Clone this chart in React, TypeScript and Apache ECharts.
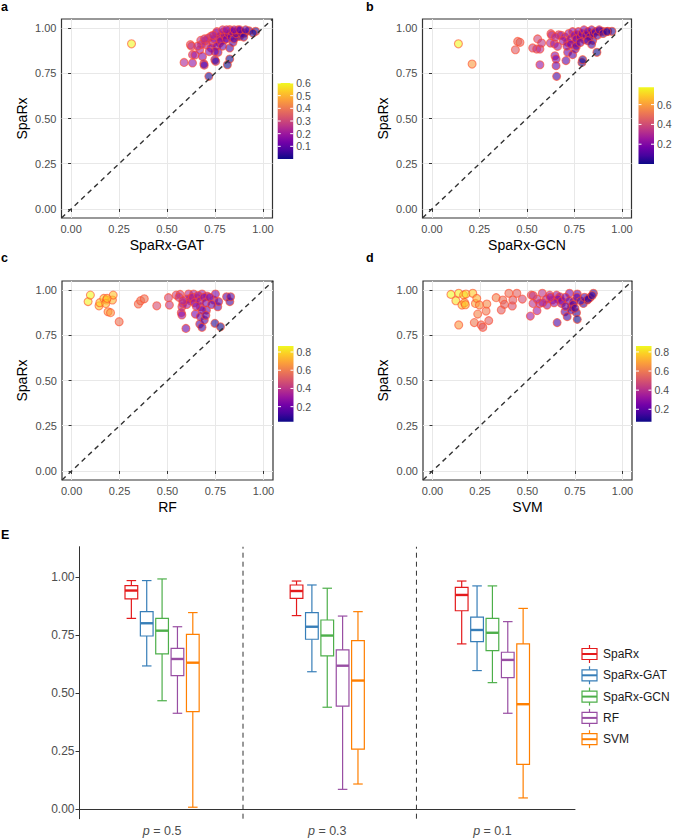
import React, { useEffect, useRef } from 'react';
import * as echarts from 'echarts';

// ---------- data: scatter panels ([other method, SpaRx]) ----------
const gatPoints = [
  [0.315,0.913],[0.589,0.81],[0.633,0.807],[0.622,0.908],[0.628,0.9],[0.633,0.853],[0.646,0.851],[0.671,0.88],
  [0.676,0.932],[0.685,0.843],[0.692,0.803],[0.694,0.795],[0.718,0.733],[0.705,0.908],[0.728,0.954],[0.74,0.917],
  [0.749,0.825],[0.754,0.816],[0.766,0.866],[0.775,0.917],[0.783,0.958],[0.795,0.978],[0.8,0.935],[0.809,0.963],
  [0.827,0.89],[0.827,0.829],[0.815,0.797],[0.844,0.921],[0.853,0.976],[0.865,0.954],[0.879,0.982],[0.905,0.972],
  [0.927,0.985],[0.962,0.982],[0.757,0.972],[0.827,0.991],[0.879,0.954],[0.948,0.972],[0.7,0.93],[0.715,0.945],
  [0.73,0.89],[0.745,0.94],[0.76,0.9],[0.77,0.95],[0.78,0.93],[0.79,0.9],[0.8,0.96],[0.81,0.94],[0.82,0.97],
  [0.835,0.95],[0.84,0.98],[0.85,0.94],[0.86,0.97],[0.87,0.99],[0.89,0.97],[0.9,0.95],[0.76,0.98],[0.79,0.99],
  [0.81,0.99],[0.85,0.99],[0.88,0.99],[0.91,0.99],[0.74,0.96],[0.75,0.87],[0.72,0.87],[0.68,0.91],[0.66,0.9],[0.695,0.94]
];
const gcnPoints = [
  [0.139,0.913],[0.211,0.801],[0.439,0.88],[0.451,0.926],[0.463,0.921],[0.53,0.89],[0.556,0.94],[0.551,0.884],
  [0.568,0.884],[0.577,0.917],[0.568,0.797],[0.626,0.969],[0.623,0.917],[0.644,0.913],[0.647,0.847],[0.653,0.829],
  [0.653,0.792],[0.656,0.733],[0.661,0.899],[0.667,0.963],[0.705,0.82],[0.714,0.866],[0.714,0.921],[0.74,0.853],
  [0.754,0.884],[0.758,0.917],[0.767,0.963],[0.789,0.81],[0.793,0.825],[0.802,0.936],[0.828,0.967],[0.846,0.932],
  [0.868,0.866],[0.881,0.982],[0.898,0.982],[0.925,0.982],[0.947,0.982],[0.68,0.96],[0.7,0.95],[0.72,0.97],
  [0.73,0.94],[0.74,0.98],[0.75,0.96],[0.76,0.94],[0.77,0.98],[0.78,0.95],[0.79,0.97],[0.8,0.99],[0.81,0.96],
  [0.82,0.98],[0.83,0.95],[0.84,0.99],[0.85,0.97],[0.86,0.98],[0.87,0.96],[0.88,0.99],[0.9,0.97],[0.92,0.98],
  [0.69,0.93],[0.71,0.9],[0.73,0.91],[0.76,0.9],[0.78,0.92],[0.82,0.93],[0.84,0.91],[0.63,0.96],[0.65,0.95]
];
const rfPoints = [
  [0.086,0.936],[0.098,0.972],[0.143,0.913],[0.147,0.93],[0.168,0.954],[0.182,0.945],[0.178,0.926],[0.19,0.88],
  [0.203,0.875],[0.213,0.945],[0.217,0.972],[0.185,0.954],[0.248,0.825],[0.348,0.923],[0.36,0.941],[0.379,0.952],
  [0.444,0.913],[0.505,0.958],[0.51,0.917],[0.545,0.972],[0.566,0.976],[0.575,0.908],[0.572,0.875],[0.575,0.862],
  [0.596,0.788],[0.58,0.926],[0.61,0.978],[0.619,0.954],[0.636,0.978],[0.645,0.867],[0.654,0.954],[0.671,0.908],
  [0.671,0.853],[0.668,0.812],[0.68,0.794],[0.68,0.978],[0.692,0.834],[0.703,0.889],[0.706,0.967],[0.741,0.945],
  [0.747,0.816],[0.75,0.978],[0.762,0.908],[0.767,0.936],[0.776,0.797],[0.808,0.963],[0.825,0.936],[0.829,0.963],
  [0.6,0.95],[0.62,0.94],[0.63,0.96],[0.64,0.93],[0.66,0.97],[0.67,0.94],[0.69,0.96],[0.7,0.93],[0.72,0.96],
  [0.73,0.92],[0.68,0.89],[0.7,0.86],[0.65,0.91],[0.6,0.92],[0.56,0.96],[0.58,0.94]
];
const svmPoints = [
  [0.097,0.976],[0.123,0.941],[0.138,0.982],[0.155,0.917],[0.164,0.972],[0.169,0.93],[0.173,0.919],[0.176,0.978],
  [0.138,0.807],[0.212,0.982],[0.226,0.926],[0.233,0.954],[0.238,0.867],[0.22,0.82],[0.247,0.917],[0.256,0.807],
  [0.265,0.794],[0.282,0.884],[0.286,0.923],[0.296,0.831],[0.335,0.958],[0.362,0.89],[0.37,0.945],[0.379,0.921],
  [0.402,0.982],[0.42,0.912],[0.423,0.945],[0.444,0.982],[0.473,0.95],[0.515,0.856],[0.52,0.972],[0.529,0.926],
  [0.55,0.886],[0.564,0.926],[0.578,0.982],[0.603,0.917],[0.617,0.972],[0.631,0.945],[0.653,0.972],[0.656,0.82],
  [0.67,0.963],[0.679,0.926],[0.697,0.88],[0.709,0.853],[0.721,0.982],[0.732,0.908],[0.744,0.936],[0.758,0.875],
  [0.762,0.838],[0.762,0.978],[0.794,0.926],[0.815,0.945],[0.829,0.959],[0.847,0.982],[0.66,0.95],[0.68,0.94],
  [0.7,0.96],[0.72,0.94],[0.74,0.92],[0.76,0.96],[0.78,0.94],[0.8,0.96],[0.82,0.95],[0.84,0.97],[0.73,0.89],
  [0.75,0.9],[0.7,0.91],[0.64,0.93],[0.6,0.95],[0.58,0.93],[0.55,0.95],[0.53,0.97],[0.62,0.96]
];
const scatterAxisTicks = [0, 0.25, 0.5, 0.75, 1];
const gatColorRange = [0.0, 0.6];
const gcnColorRange = [0.0, 0.775];
const rfColorRange = [0.035, 0.866];
const svmColorRange = [0.07, 0.862];
const gatColorTicks = [0.1, 0.2, 0.3, 0.4, 0.5, 0.6];
const gcnColorTicks = [0.2, 0.4, 0.6];
const rfColorTicks = [0.2, 0.4, 0.6, 0.8];
const svmColorTicks = [0.2, 0.4, 0.6, 0.8];

// ---------- data: panel E boxplots [low, q1, median, q3, high] per p ----------
const pLabels = ['0.5', '0.3', '0.1'];
const methods = ['SpaRx', 'SpaRx-GAT', 'SpaRx-GCN', 'RF', 'SVM'];
const sparxBoxes = [[0.823,0.907,0.943,0.964,0.986],[0.835,0.909,0.941,0.967,0.984],[0.713,0.856,0.924,0.957,0.984]];
const gatBoxes = [[0.618,0.747,0.802,0.852,0.986],[0.593,0.733,0.787,0.848,0.967],[0.598,0.723,0.773,0.828,0.963]];
const gcnBoxes = [[0.468,0.67,0.77,0.823,0.993],[0.44,0.661,0.749,0.816,0.953],[0.546,0.684,0.761,0.823,0.963]];
const rfBoxes = [[0.414,0.576,0.648,0.694,0.787],[0.086,0.445,0.619,0.687,0.833],[0.414,0.568,0.644,0.677,0.809]];
const svmBoxes = [[0.009,0.421,0.632,0.754,0.848],[0.109,0.259,0.555,0.727,0.852],[0.049,0.194,0.453,0.713,0.866]];
const eAxisTicks = [0, 0.25, 0.5, 0.75, 1];
const separatorPositions = [0.99, 2.04];

// ---------- styles ----------
const FONT = 'Liberation Sans, Arial, Helvetica, sans-serif';
const plasma = ['#0d0887','#47039f','#7301a8','#9c179e','#bd3786','#d8576b','#ed7953','#fb9f3a','#fdca26','#f0f921'];
const methodColors = ['#e41a1c', '#377eb8', '#4daf4a', '#984ea3', '#ff7f00'];
const methodBoxes = [sparxBoxes, gatBoxes, gcnBoxes, rfBoxes, svmBoxes];

const panels = [
  { label: 'a', xName: 'SpaRx-GAT', points: gatPoints, range: gatColorRange, ticks: gatColorTicks,
    grid: { left: 61.5, top: 19, width: 211, height: 199 }, bar: { x: 277.7, y: 83, w: 15.5, h: 76 }, lab: [1, 7] },
  { label: 'b', xName: 'SpaRx-GCN', points: gcnPoints, range: gcnColorRange, ticks: gcnColorTicks,
    grid: { left: 422.5, top: 19, width: 209, height: 199 }, bar: { x: 638.5, y: 87.3, w: 15.5, h: 76.7 }, lab: [366, 7] },
  { label: 'c', xName: 'RF', points: rfPoints, range: rfColorRange, ticks: rfColorTicks,
    grid: { left: 62, top: 281, width: 211, height: 199 }, bar: { x: 278, y: 346, w: 15.5, h: 75.7 }, lab: [1, 258] },
  { label: 'd', xName: 'SVM', points: svmPoints, range: svmColorRange, ticks: svmColorTicks,
    grid: { left: 423, top: 281, width: 209, height: 199 }, bar: { x: 636, y: 346, w: 15.5, h: 75.7 }, lab: [366, 258] },
];

const eGrid = { left: 79.5, top: 546.7, width: 495.5, height: 272 };

function buildOption() {
  const grid: any[] = [];
  const xAxis: any[] = [];
  const yAxis: any[] = [];
  const series: any[] = [];
  const visualMap: any[] = [];
  const graphic: any[] = [];

  panels.forEach((p, i) => {
    grid.push({ ...p.grid, show: true, borderColor: '#333', borderWidth: 1.2, backgroundColor: 'transparent' });
    xAxis.push({
      gridIndex: i, type: 'value', min: -0.05, max: 1.05,
      axisLine: { show: false },
      axisTick: { show: true, customValues: scatterAxisTicks, length: 3, lineStyle: { color: '#333' } },
      axisLabel: { customValues: scatterAxisTicks, formatter: (v: number) => v.toFixed(2), color: '#4d4d4d', fontSize: 11, margin: 5, fontFamily: FONT },
      splitLine: { show: true, lineStyle: { color: '#e8e8e8', width: 1 } },
      name: p.xName, nameLocation: 'middle', nameGap: 20,
      nameTextStyle: { fontSize: 14, color: '#000', fontFamily: FONT },
    });
    yAxis.push({
      gridIndex: i, type: 'value', min: -0.05, max: 1.05,
      axisLine: { show: false },
      axisTick: { show: true, customValues: scatterAxisTicks, length: 3, lineStyle: { color: '#333' } },
      axisLabel: { customValues: scatterAxisTicks, formatter: (v: number) => v.toFixed(2), color: '#4d4d4d', fontSize: 11, margin: 5, fontFamily: FONT },
      splitLine: { show: true, lineStyle: { color: '#e8e8e8', width: 1 } },
      name: 'SpaRx', nameLocation: 'middle', nameGap: 33,
      nameTextStyle: { fontSize: 14, color: '#000', fontFamily: FONT },
    });
    const sIdx = series.length;
    series.push({
      type: 'scatter', xAxisIndex: i, yAxisIndex: i,
      data: p.points.map((q) => [q[0], q[1], q[1] - q[0]]),
      symbolSize: 8,
      itemStyle: { opacity: 0.6, borderColor: '#ff4a2a', borderWidth: 1.1 },
      z: 2,
    });
    series.push({
      type: 'line', xAxisIndex: i, yAxisIndex: i,
      data: [[-0.05, -0.05], [1.05, 1.05]],
      symbol: 'none', silent: true,
      lineStyle: { color: '#333', width: 1.4, type: [5, 4] },
      z: 3,
    });
    visualMap.push({
      type: 'continuous', show: false, seriesIndex: sIdx, dimension: 2,
      min: p.range[0], max: p.range[1], inRange: { color: plasma },
    });
    // colour bar
    const b = p.bar;
    graphic.push({
      type: 'rect', shape: { x: b.x, y: b.y, width: b.w, height: b.h },
      style: {
        fill: {
          type: 'linear', x: 0, y: 1, x2: 0, y2: 0,
          colorStops: plasma.map((c, k) => ({ offset: k / (plasma.length - 1), color: c })),
        },
      },
    });
    p.ticks.forEach((t) => {
      const ty = b.y + b.h - ((t - p.range[0]) / (p.range[1] - p.range[0])) * b.h;
      graphic.push({ type: 'line', shape: { x1: b.x, y1: ty, x2: b.x + 3, y2: ty }, style: { stroke: '#fff', lineWidth: 1 } });
      graphic.push({ type: 'line', shape: { x1: b.x + b.w - 3, y1: ty, x2: b.x + b.w, y2: ty }, style: { stroke: '#fff', lineWidth: 1 } });
      graphic.push({
        type: 'text', x: b.x + b.w + 3, y: ty,
        style: { text: String(t), fontSize: 10.5, fill: '#4d4d4d', fontFamily: FONT, verticalAlign: 'middle', align: 'left' },
      });
    });
    graphic.push({
      type: 'text', x: p.lab[0], y: p.lab[1],
      style: { text: p.label, fontSize: 12.5, fontWeight: 'bold', fill: '#000', fontFamily: FONT, verticalAlign: 'middle' },
    });
  });

  // ---------- panel E ----------
  grid.push({ ...eGrid, show: false });
  const eIdx = 4;
  xAxis.push({
    gridIndex: eIdx, type: 'category', data: pLabels, boundaryGap: true,
    axisLine: { lineStyle: { color: '#333', width: 1 } },
    axisTick: { alignWithLabel: true, length: 4, lineStyle: { color: '#333' } },
    axisLabel: {
      formatter: (v: string) => `{i|p} = ${v}`,
      rich: { i: { fontStyle: 'italic', fontSize: 12.5, color: '#4d4d4d', fontFamily: FONT } },
      fontSize: 12.5, color: '#4d4d4d', margin: 6, fontFamily: FONT,
    },
    splitLine: { show: false },
  });
  xAxis.push({ gridIndex: eIdx, type: 'value', min: 0, max: 3, show: false });
  yAxis.push({
    gridIndex: eIdx, type: 'value', min: -0.0405, max: 1.132,
    axisLine: { show: true, lineStyle: { color: '#333', width: 1 } },
    axisTick: { show: true, customValues: eAxisTicks, length: 4, lineStyle: { color: '#333' } },
    axisLabel: { customValues: eAxisTicks, formatter: (v: number) => v.toFixed(2), color: '#4d4d4d', fontSize: 12, margin: 5, fontFamily: FONT },
    splitLine: { show: false },
  });

  methods.forEach((m, mi) => {
    const color = methodColors[mi];
    series.push({
      type: 'custom', name: m, xAxisIndex: 4, yAxisIndex: 4,
      data: methodBoxes[mi].map((bx, ci) => [ci, ...bx]),
      encode: { x: 0, y: [1, 2, 3, 4, 5] },
      renderItem: (params: any, api: any) => {
        const ci = api.value(0);
        const band = api.size([1, 0])[0];
        const cx = api.coord([ci, 0])[0] + (mi - 2) * band * 0.093;
        const bw = band * 0.077;
        const cw = bw * 0.75;
        const yy = (k: number) => api.coord([ci, api.value(k)])[1];
        const yl = yy(1), q1 = yy(2), md = yy(3), q3 = yy(4), yh = yy(5);
        const st = { stroke: color, lineWidth: 1.2, fill: 'none' };
        return {
          type: 'group',
          children: [
            { type: 'line', shape: { x1: cx, y1: yh, x2: cx, y2: q3 }, style: st },
            { type: 'line', shape: { x1: cx, y1: q1, x2: cx, y2: yl }, style: st },
            { type: 'line', shape: { x1: cx - cw / 2, y1: yh, x2: cx + cw / 2, y2: yh }, style: st },
            { type: 'line', shape: { x1: cx - cw / 2, y1: yl, x2: cx + cw / 2, y2: yl }, style: st },
            { type: 'rect', shape: { x: cx - bw / 2, y: q3, width: bw, height: q1 - q3 }, style: { ...st, fill: '#fff' } },
            { type: 'line', shape: { x1: cx - bw / 2, y1: md, x2: cx + bw / 2, y2: md }, style: { stroke: color, lineWidth: 2.4 } },
          ],
        };
      },
      z: 3,
    });
  });

  separatorPositions.forEach((sp) => {
    series.push({
      type: 'line', xAxisIndex: 5, yAxisIndex: 4,
      data: [[sp, -0.0405], [sp, 1.132]],
      symbol: 'none', silent: true,
      lineStyle: { color: '#333', width: 1, type: [5, 4] },
      z: 1,
    });
  });

  // legend for E
  const lx = 582, lw = 15, ly0 = 654, lstep = 21.3;
  methods.forEach((m, mi) => {
    const c = methodColors[mi];
    const y = ly0 + mi * lstep;
    const cx = lx + lw / 2;
    graphic.push({ type: 'line', shape: { x1: cx, y1: y - 9, x2: cx, y2: y - 5.5 }, style: { stroke: c, lineWidth: 1.2 } });
    graphic.push({ type: 'line', shape: { x1: cx, y1: y + 5.5, x2: cx, y2: y + 9 }, style: { stroke: c, lineWidth: 1.2 } });
    graphic.push({ type: 'rect', shape: { x: lx, y: y - 5.5, width: lw, height: 11 }, style: { stroke: c, lineWidth: 1.2, fill: '#fff' } });
    graphic.push({ type: 'line', shape: { x1: lx, y1: y, x2: lx + lw, y2: y }, style: { stroke: c, lineWidth: 2 } });
    graphic.push({
      type: 'text', x: 603, y,
      style: { text: m, fontSize: 12, fill: '#1a1a1a', fontFamily: FONT, verticalAlign: 'middle', align: 'left' },
    });
  });
  graphic.push({
    type: 'text', x: 1, y: 535,
    style: { text: 'E', fontSize: 12.5, fontWeight: 'bold', fill: '#000', fontFamily: FONT, verticalAlign: 'middle' },
  });

  return {
    animation: false,
    backgroundColor: '#fff',
    textStyle: { fontFamily: FONT },
    grid, xAxis, yAxis, series, visualMap, graphic,
  };
}

export default function App() {
  const ref = useRef<HTMLDivElement>(null);
  useEffect(() => {
    document.body.style.margin = '0';
    if (!ref.current) return;
    const chart = echarts.init(ref.current, undefined, { renderer: 'svg' });
    chart.setOption(buildOption() as any);
    return () => chart.dispose();
  }, []);
  return <div ref={ref} style={{ width: 673, height: 839 }} />;
}
